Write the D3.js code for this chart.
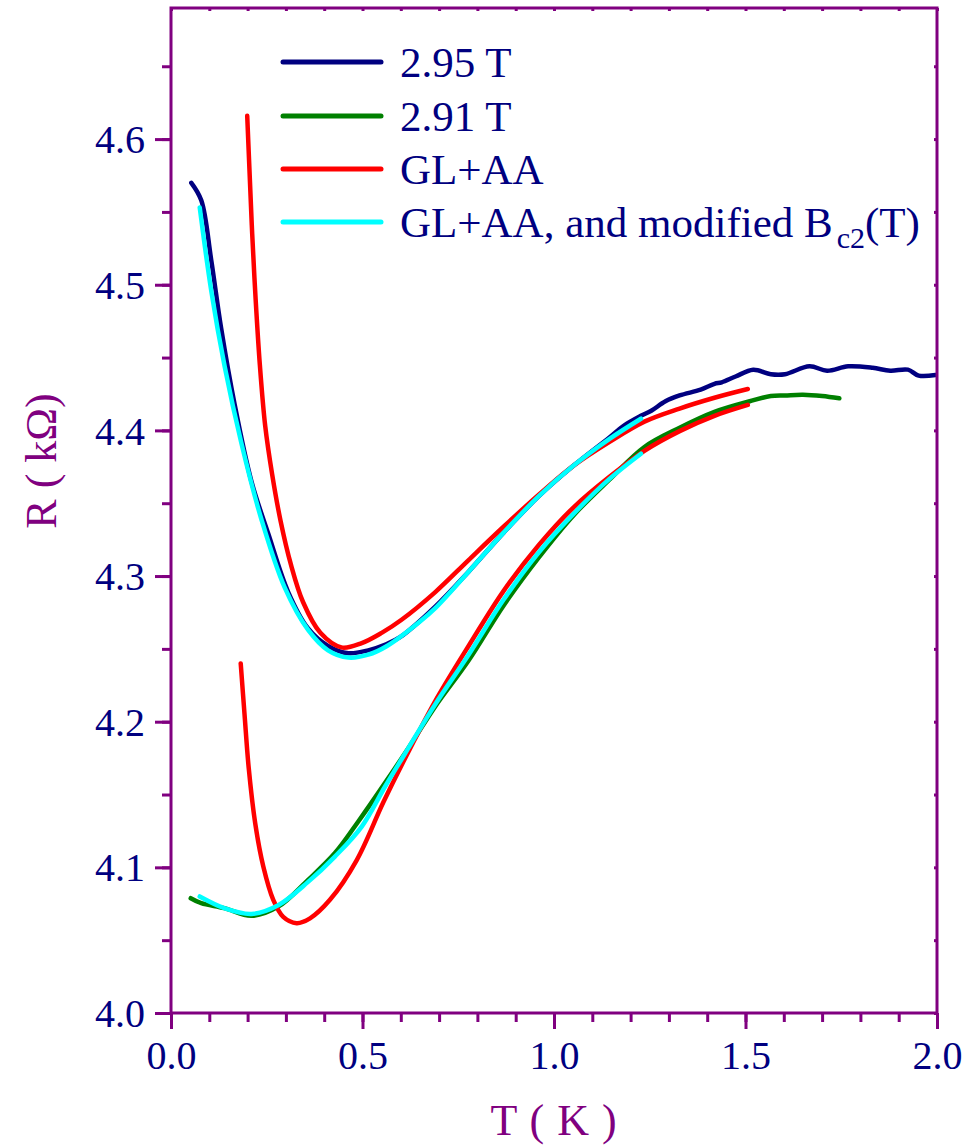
<!DOCTYPE html>
<html>
<head>
<meta charset="utf-8">
<script src="https://cdn.jsdelivr.net/npm/d3@7"></script>
<style>
  html, body { margin: 0; padding: 0; background: #fff; }
  svg { display: block; }
</style>
</head>
<body>
<svg id="chart" width="977" height="1145"></svg>
<script>
// Resistance vs temperature near the field-tuned transition
// Each series: [T (K), R (kOhm)]
const data295 = [
  [0.053,4.570],[0.079,4.558],[0.105,4.517],[0.131,4.470],[0.166,4.418],[0.210,4.365],
  [0.254,4.329],[0.306,4.289],[0.358,4.264],[0.410,4.252],[0.463,4.247],[0.515,4.249],
  [0.560,4.253],[0.598,4.258],[0.690,4.279],[0.777,4.303],[0.869,4.330],[0.961,4.355],
  [1.052,4.376],[1.144,4.395],[1.181,4.403],[1.227,4.410],[1.254,4.4135],[1.291,4.420],
  [1.328,4.424],[1.383,4.428],[1.419,4.432],[1.438,4.433],[1.474,4.437],[1.520,4.4416],
  [1.566,4.4386],[1.603,4.4386],[1.667,4.444],[1.713,4.441],[1.768,4.444],[1.832,4.443],
  [1.878,4.441],[1.924,4.4417],[1.952,4.4376],[1.996,4.438]
];
const data291 = [
  [0.0515,4.0788],[0.079,4.0754],[0.139,4.072],[0.210,4.0667],[0.280,4.073],[0.358,4.0914],
  [0.428,4.1098],[0.489,4.1315],[0.559,4.158],[0.620,4.182],[0.690,4.2105],[0.777,4.242],
  [0.869,4.280],[0.961,4.313],[1.052,4.342],[1.144,4.366],[1.236,4.3886],[1.328,4.4018],
  [1.419,4.4127],[1.511,4.420],[1.566,4.4236],[1.603,4.424],[1.650,4.4245],[1.700,4.4236],
  [1.745,4.422]
];
const glaaUpper = [
  [0.199,4.616],[0.205,4.578],[0.212,4.535],[0.221,4.490],[0.232,4.445],[0.246,4.403],
  [0.264,4.370],[0.286,4.338],[0.313,4.308],[0.345,4.282],[0.390,4.261],[0.445,4.251],
  [0.498,4.254],[0.550,4.261],[0.602,4.270],[0.690,4.289],[0.777,4.311],[0.869,4.334],
  [0.961,4.356],[1.052,4.376],[1.144,4.392],[1.236,4.406],[1.328,4.415],[1.419,4.4224],
  [1.506,4.4284]
];
const glaaLower = [
  [0.182,4.240],[0.192,4.205],[0.203,4.168],[0.220,4.130],[0.241,4.1006],[0.267,4.0777],
  [0.293,4.066],[0.328,4.0617],[0.363,4.065],[0.415,4.0777],[0.485,4.105],[0.555,4.145],
  [0.625,4.182],[0.694,4.216],[0.777,4.252],[0.869,4.290],[0.961,4.3215],[1.052,4.3474],
  [1.144,4.368],[1.236,4.386],[1.328,4.3995],[1.419,4.410],[1.506,4.4175]
];
const modUpper = [
  [0.075,4.553],[0.105,4.496],[0.140,4.444],[0.184,4.391],[0.236,4.339],[0.297,4.292],
  [0.358,4.263],[0.410,4.249],[0.463,4.244],[0.515,4.246],[0.564,4.252],[0.651,4.269],
  [0.690,4.278],[0.777,4.303],[0.869,4.330],[0.961,4.355],[1.052,4.376],[1.144,4.394],
  [1.227,4.408]
];
const modLower = [
  [0.075,4.080],[0.139,4.072],[0.210,4.068],[0.280,4.074],[0.358,4.090],[0.428,4.1074],
  [0.498,4.128],[0.559,4.1555],[0.620,4.182],[0.690,4.212],[0.777,4.246],[0.869,4.284],
  [0.961,4.3165],[1.052,4.343],[1.144,4.3665],[1.227,4.384]
];

const xTicks = [0.0, 0.5, 1.0, 1.5, 2.0];
const yTicks = [4.0, 4.1, 4.2, 4.3, 4.4, 4.5, 4.6];
const legendLabels = ["2.95 T", "2.91 T", "GL+AA", "GL+AA, and modified B"];

const AXIS = "#800080", LABEL = "#000080";
const NAVY = "#000080", GREEN = "#008000", RED = "#ff0000", CYAN = "#00ffff";
const FONT = "'Liberation Serif', 'Times New Roman', serif";

const svg = d3.select("#chart");
const PL = 171, PR = 937, PT = 8, PB = 1013;
const x = d3.scaleLinear().domain([0, 2]).range([PL, PR]);
const y = d3.scaleLinear().domain([4.0, 4.69]).range([PB, PT]);

const line = d3.line().x(d => x(d[0])).y(d => y(d[1])).curve(d3.curveCatmullRom.alpha(0.5));

// curves
const series = [
  {d: data295, c: NAVY}, {d: data291, c: GREEN},
  {d: glaaUpper, c: RED}, {d: glaaLower, c: RED},
  {d: modUpper, c: CYAN}, {d: modLower, c: CYAN}
];
svg.append("g").selectAll("path").data(series).join("path")
  .attr("d", s => line(s.d))
  .attr("fill", "none")
  .attr("stroke", s => s.c)
  .attr("stroke-width", 4.5)
  .attr("stroke-linecap", "round")
  .attr("stroke-linejoin", "round");

// axes
const xMinor = d3.range(0, 2.0001, 0.1);
const yMinor = d3.range(4.0, 4.6801, 0.05);

const gBottom = svg.append("g").attr("transform", `translate(0,${PB})`)
  .call(d3.axisBottom(x).tickValues(xMinor).tickSize(9).tickFormat(""));
const gBottomMajor = svg.append("g").attr("transform", `translate(0,${PB})`)
  .call(d3.axisBottom(x).tickValues(xTicks).tickSize(16).tickPadding(12).tickFormat(d3.format(".1f")));
const gLeft = svg.append("g").attr("transform", `translate(${PL},0)`)
  .call(d3.axisLeft(y).tickValues(yMinor).tickSize(9).tickFormat(""));
const gLeftMajor = svg.append("g").attr("transform", `translate(${PL},0)`)
  .call(d3.axisLeft(y).tickValues(yTicks).tickSize(16).tickPadding(10).tickFormat(d3.format(".1f")));
const gTop = svg.append("g").attr("transform", `translate(0,${PT})`)
  .call(d3.axisBottom(x).tickValues(xMinor).tickSize(3).tickFormat(""));
const gRight = svg.append("g").attr("transform", `translate(${PR},0)`)
  .call(d3.axisLeft(y).tickValues(yMinor).tickSize(3).tickFormat(""));

[gBottom, gBottomMajor, gLeft, gLeftMajor, gTop, gRight].forEach(g => {
  g.selectAll(".domain").remove();
  g.selectAll(".tick line").attr("stroke", AXIS).attr("stroke-width", 3);
  g.selectAll(".tick text").attr("fill", LABEL).style("font-family", FONT).style("font-size", "40px");
});
gBottomMajor.selectAll(".tick text").attr("dy", "0.71em");
gLeftMajor.selectAll(".tick text").attr("dy", "0.34em");

// frame
svg.append("rect")
  .attr("x", PL).attr("y", PT).attr("width", PR - PL).attr("height", PB - PT)
  .attr("fill", "none").attr("stroke", AXIS).attr("stroke-width", 3);

// axis titles
svg.append("text")
  .attr("x", x(1.0)).attr("y", 1135)
  .attr("text-anchor", "middle")
  .attr("fill", AXIS).style("font-family", FONT).style("font-size", "44px")
  .style("white-space", "pre").style("letter-spacing", "1px")
  .text("T ( K )");
svg.append("text")
  .attr("transform", `translate(56,461) rotate(-90)`)
  .attr("text-anchor", "middle")
  .attr("fill", AXIS).style("font-family", FONT).style("font-size", "44px")
  .style("white-space", "pre")
  .text("R ( kΩ)");

// legend
const legendColors = [NAVY, GREEN, RED, CYAN];
const legendY = [62, 116, 169, 222];
const lg = svg.append("g");
legendLabels.forEach((lab, i) => {
  lg.append("line")
    .attr("x1", 283).attr("x2", 381)
    .attr("y1", legendY[i]).attr("y2", legendY[i])
    .attr("stroke", legendColors[i]).attr("stroke-width", 5).attr("stroke-linecap", "round");
  const t = lg.append("text")
    .attr("x", 400).attr("y", legendY[i] + 15)
    .attr("fill", LABEL).style("font-family", FONT).style("font-size", "43px")
    .text(lab);
  if (i === 3) {
    t.append("tspan").attr("dx", 4).attr("dy", 11).style("font-size", "30px").text("c2");
    t.append("tspan").attr("dy", -11).text("(T)");
  }
});
</script>
</body>
</html>
